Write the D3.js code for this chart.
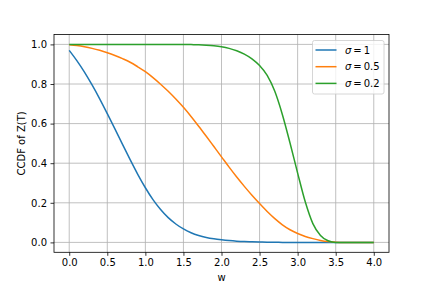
<!DOCTYPE html>
<html>
<head>
<meta charset="utf-8">
<script src="https://cdn.jsdelivr.net/npm/d3@7"></script>
<style>
  body { margin: 0; background: #fff; }
  svg text { font-family: "DejaVu Sans", sans-serif; fill: #000; }
</style>
</head>
<body>
<div id="chart"></div>
<script>
// Values.
var wValues = [0.0, 0.1, 0.2, 0.3, 0.4, 0.5, 0.6, 0.7, 0.8, 0.9,
               1.0, 1.1, 1.2, 1.3, 1.4, 1.5, 1.6, 1.7, 1.8, 1.9,
               2.0, 2.1, 2.2, 2.3, 2.4, 2.5, 2.6, 2.7, 2.8, 2.9,
               3.0, 3.1, 3.2, 3.3, 3.4, 3.5, 3.6, 3.7, 3.8, 3.9, 4.0];
var sigma1   = [0.970, 0.918, 0.860, 0.795, 0.725, 0.650, 0.573, 0.495, 0.418, 0.344,
                0.276, 0.216, 0.166, 0.125, 0.093, 0.068, 0.049, 0.035, 0.025, 0.018,
                0.013, 0.009, 0.006, 0.004, 0.003, 0.002, 0.001, 0.001, 0.000, 0.000,
                0.000, 0.000, 0.000, 0.000, 0.000, 0.000, 0.000, 0.000, 0.000, 0.000, 0.000];
var sigma05  = [0.998, 0.994, 0.988, 0.980, 0.970, 0.958, 0.944, 0.928, 0.910, 0.887,
                0.862, 0.832, 0.799, 0.763, 0.724, 0.682, 0.636, 0.587, 0.536, 0.484,
                0.432, 0.380, 0.330, 0.283, 0.238, 0.196, 0.156, 0.120, 0.089, 0.064,
                0.045, 0.030, 0.019, 0.010, 0.004, 0.001, 0.000, 0.000, 0.000, 0.000, 0.000];
var sigma02  = [1.000, 1.000, 1.000, 1.000, 1.000, 1.000, 1.000, 1.000, 1.000, 1.000,
                1.000, 1.000, 1.000, 1.000, 1.000, 1.000, 0.999, 0.998, 0.996, 0.993,
                0.988, 0.980, 0.968, 0.951, 0.927, 0.893, 0.843, 0.763, 0.645, 0.502,
                0.350, 0.205, 0.095, 0.035, 0.008, 0.000, 0.000, 0.000, 0.000, 0.000, 0.000];
var seriesNames = ["1", "0.5", "0.2"];
var xTicks = [0, 0.5, 1, 1.5, 2, 2.5, 3, 3.5, 4];
var yTicks = [0, 0.2, 0.4, 0.6, 0.8, 1.0];

var colors = ["#1f77b4", "#ff7f0e", "#2ca02c"];
var series = [sigma1, sigma05, sigma02];

var width = 432, height = 288;
var plotLeft = 54, plotRight = 389, plotTop = 34.5, plotBottom = 252.3;

var svg = d3.select("#chart").append("svg")
	.attr("width", width).attr("height", height);

var x = d3.scaleLinear().domain([-0.2, 4.2]).range([plotLeft, plotRight]);
var y = d3.scaleLinear().domain([-0.05, 1.05]).range([plotBottom, plotTop]);

// Grid lines
svg.append("g").selectAll("line").data(xTicks).enter().append("line")
	.attr("x1", function(d){ return x(d); }).attr("x2", function(d){ return x(d); })
	.attr("y1", plotTop).attr("y2", plotBottom)
	.attr("stroke", "#b0b0b0").attr("stroke-width", 0.8);
svg.append("g").selectAll("line").data(yTicks).enter().append("line")
	.attr("y1", function(d){ return y(d); }).attr("y2", function(d){ return y(d); })
	.attr("x1", plotLeft).attr("x2", plotRight)
	.attr("stroke", "#b0b0b0").attr("stroke-width", 0.8);

// Curves
var line = d3.line()
	.x(function(d){ return x(d[0]); })
	.y(function(d){ return y(d[1]); })
	.curve(d3.curveMonotoneX);

series.forEach(function(vals, i){
	svg.append("path")
		.datum(wValues.map(function(w, j){ return [w, vals[j]]; }))
		.attr("fill", "none")
		.attr("stroke", colors[i])
		.attr("stroke-width", 1.5)
		.attr("d", line);
});

// Axes
var xAxis = d3.axisBottom(x).tickValues(xTicks).tickSize(3.5).tickPadding(3.5)
	.tickFormat(d3.format(".1f"));
var yAxis = d3.axisLeft(y).tickValues(yTicks).tickSize(3.5).tickPadding(3.5)
	.tickFormat(d3.format(".1f"));

var gx = svg.append("g").attr("transform", "translate(0," + plotBottom + ")").call(xAxis);
var gy = svg.append("g").attr("transform", "translate(" + plotLeft + ",0)").call(yAxis);
[gx, gy].forEach(function(g){
	g.select(".domain").remove();
	g.selectAll("line").attr("stroke", "#000").attr("stroke-width", 0.8);
	g.selectAll("text").attr("font-size", "10px").attr("font-family", "DejaVu Sans").attr("fill", "#000");
});

// Frame
svg.append("rect")
	.attr("x", plotLeft).attr("y", plotTop)
	.attr("width", plotRight - plotLeft).attr("height", plotBottom - plotTop)
	.attr("fill", "none").attr("stroke", "#000").attr("stroke-width", 0.8);

// Axis labels
svg.append("text")
	.attr("x", (plotLeft + plotRight) / 2).attr("y", 281)
	.attr("text-anchor", "middle").attr("font-size", "10px")
	.text("w");
svg.append("text")
	.attr("transform", "translate(25," + ((plotTop + plotBottom) / 2) + ") rotate(-90)")
	.attr("text-anchor", "middle").attr("font-size", "10px")
	.text("CCDF of Z(T)");

// Legend
var legend = svg.append("g");
legend.append("rect")
	.attr("x", 312.5).attr("y", 40.5).attr("width", 71.5).attr("height", 53.5)
	.attr("rx", 2).attr("ry", 2)
	.attr("fill", "#fff").attr("fill-opacity", 0.8)
	.attr("stroke", "#cccccc").attr("stroke-width", 0.8);
seriesNames.forEach(function(name, i){
	var ly = 50 + i * 16.7;
	legend.append("line")
		.attr("x1", 315.5).attr("x2", 336.5)
		.attr("y1", ly).attr("y2", ly)
		.attr("stroke", colors[i]).attr("stroke-width", 1.5);
	var t = legend.append("text")
		.attr("x", 345).attr("y", ly + 3.6)
		.attr("font-size", "10px");
	t.append("tspan").attr("font-style", "italic").text("\u03c3");
	t.append("tspan").text("\u2009=\u2009" + name);
});
</script>
</body>
</html>
